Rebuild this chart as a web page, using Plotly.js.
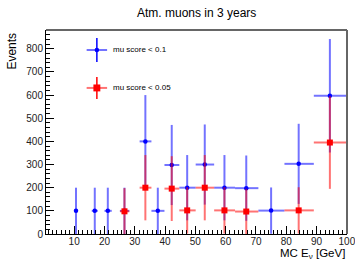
<!DOCTYPE html>
<html>
<head>
<meta charset="utf-8">
<script src="https://cdn.plot.ly/plotly-3.0.1.min.js"></script>
<style>html,body{margin:0;padding:0;background:#fff;}#chart{width:355px;height:260px;}</style>
</head>
<body>
<div id="chart"></div>
<script>
// Blue series: mu score < 0.1
const blueX    = [10.6, 16.8, 21.1, 26.6, 33.5, 37.6, 42.2, 47.3, 53.1, 59.6, 66.8, 75.0, 84.1, 94.4];
const blueLow  = [10.0, 15.8, 20.0, 25.1, 31.6, 35.5, 39.8, 44.7, 50.1, 56.2, 63.1, 70.8, 79.4, 89.1];
const blueHigh = [11.2, 17.8, 22.4, 28.2, 35.5, 39.8, 44.7, 50.1, 56.2, 63.1, 70.8, 79.4, 89.1, 100.0];
const blueY    = [100, 100, 100, 100, 400, 100, 298, 200, 300, 200, 198, 101, 303, 597];
const blueErr  = [100, 100, 100, 100, 200, 100, 173, 141, 173, 141, 141, 100, 173, 245];

// Red series: mu score < 0.05
const redX    = [26.6, 33.5, 42.2, 47.3, 53.1, 59.6, 66.8, 84.1, 94.4];
const redLow  = [25.1, 31.6, 39.8, 44.7, 50.1, 56.2, 63.1, 79.4, 89.1];
const redHigh = [28.2, 35.5, 44.7, 50.1, 56.2, 63.1, 70.8, 89.1, 100.0];
const redY    = [98, 200, 196, 102, 200, 102, 97, 102, 395];
const redErr  = [100, 141, 140, 100, 141, 100, 98, 100, 200];

const seriesNames = ["mu score < 0.1", "mu score < 0.05"];
const xTickVals = [10, 20, 30, 40, 50, 60, 70, 80, 90, 100];
const xTickText = ["10", "20", "30", "40", "50", "60", "70", "80", "90", "100"];

const FONT = "Liberation Sans, Arial, Helvetica, sans-serif";
const BLUE_L = "rgba(0,0,255,0.55)";
const RED_L = "rgba(255,0,0,0.55)";

function mkTrace(x, lo, hi, y, err, color, lineColor, sym, size) {
  return {
    type: "scatter", mode: "markers", x: x, y: y,
    marker: {color: color, size: size, symbol: sym},
    error_x: {type: "data", symmetric: false,
      array: hi.map((h, i) => h - x[i]), arrayminus: lo.map((l, i) => x[i] - l),
      color: lineColor, thickness: 2, width: 0},
    error_y: {type: "data", symmetric: false,
      array: err, arrayminus: err.map((e, i) => Math.min(e, y[i])),
      color: lineColor, thickness: 2, width: 0},
    showlegend: false, hoverinfo: "skip", cliponaxis: true
  };
}

const traces = [
  mkTrace(blueX, blueLow, blueHigh, blueY, blueErr, "#0000ff", BLUE_L, "circle", 4.5),
  mkTrace(redX, redLow, redHigh, redY, redErr, "#ff0000", RED_L, "square", 6)
];

// legend geometry (paper coords)
const lx = 0.169, lh = 0.034;
const ly1 = 0.902, ly2 = 0.716;
const shapes = [
  // frame top & right
  {type: "line", xref: "paper", yref: "paper", x0: 0, x1: 1, y0: 1, y1: 1, line: {color: "#666", width: 2}},
  {type: "line", xref: "paper", yref: "paper", x0: 1, x1: 1, y0: 0, y1: 1, line: {color: "#666", width: 2}},
  // legend blue
  {type: "line", xref: "paper", yref: "paper", x0: lx - lh, x1: lx + lh, y0: ly1, y1: ly1, line: {color: BLUE_L, width: 2}},
  {type: "line", xref: "paper", yref: "paper", x0: lx, x1: lx, y0: ly1 - 0.059, y1: ly1 + 0.059, line: {color: "#0000ff", width: 1.5}},
  {type: "circle", xref: "paper", yref: "paper", x0: lx - 0.0075, x1: lx + 0.0075, y0: ly1 - 0.011, y1: ly1 + 0.011, fillcolor: "#0000ff", line: {width: 0}},
  // legend red
  {type: "line", xref: "paper", yref: "paper", x0: lx - lh, x1: lx + lh, y0: ly2, y1: ly2, line: {color: RED_L, width: 2}},
  {type: "line", xref: "paper", yref: "paper", x0: lx, x1: lx, y0: ly2 - 0.054, y1: ly2 + 0.054, line: {color: "#ff0000", width: 1.5}},
  {type: "rect", xref: "paper", yref: "paper", x0: lx - 0.0115, x1: lx + 0.0115, y0: ly2 - 0.017, y1: ly2 + 0.017, fillcolor: "#ff0000", line: {width: 0}}
];

const annotations = [
  {text: seriesNames[0], xref: "paper", yref: "paper", x: 0.216, y: ly1, xanchor: "left", yanchor: "middle", showarrow: false, font: {family: FONT, size: 8, color: "#000"}},
  {text: seriesNames[1], xref: "paper", yref: "paper", x: 0.216, y: ly2, xanchor: "left", yanchor: "middle", showarrow: false, font: {family: FONT, size: 8, color: "#000"}},
  {text: "Events", xref: "paper", yref: "paper", x: -0.116, y: 0.995, xanchor: "center", yanchor: "top", textangle: -90, showarrow: false, font: {family: FONT, size: 12, color: "#000"}},
  {text: "MC E<sub>ν</sub> [GeV]", xref: "paper", yref: "paper", x: 1.0, y: -0.1, xanchor: "right", yanchor: "middle", showarrow: false, font: {family: FONT, size: 11.5, color: "#000"}}
];

const layout = {
  width: 355, height: 260,
  margin: {l: 46, r: 8, t: 30, b: 26, pad: 0},
  paper_bgcolor: "#fff", plot_bgcolor: "#fff",
  font: {family: FONT, size: 10, color: "#000"},
  title: {text: "Atm. muons in 3 years", x: 0.554, xanchor: "center", y: 0.949, yanchor: "middle", font: {family: FONT, size: 12, color: "#000"}},
  xaxis: {
    range: [0.7, 100.05], tickmode: "array", tickvals: xTickVals, ticktext: xTickText,
    ticks: "inside", ticklen: 8, tickcolor: "#000", tickwidth: 1, ticklabeloverflow: "allow",
    ticklabelstandoff: -2,
    showline: true, linecolor: "#000", linewidth: 1, showgrid: false, zeroline: false,
    tickfont: {family: FONT, size: 10, color: "#222"},
    minor: {ticks: "inside", ticklen: 4, tickcolor: "#000", tickmode: "linear", tick0: 10, dtick: 10 / 7, showgrid: false}
  },
  yaxis: {
    range: [0, 881], tick0: 0, dtick: 100, ticks: "inside", ticklen: 8, tickcolor: "#000", tickwidth: 1,
    showline: true, linecolor: "#000", linewidth: 1, showgrid: false, zeroline: false,
    tickfont: {family: FONT, size: 10, color: "#222"},
    minor: {ticks: "inside", ticklen: 4, tickcolor: "#000", dtick: 20, showgrid: false}
  },
  shapes: shapes,
  annotations: annotations,
  showlegend: false
};

Plotly.newPlot("chart", traces, layout, {staticPlot: true, displayModeBar: false});
</script>
</body>
</html>
